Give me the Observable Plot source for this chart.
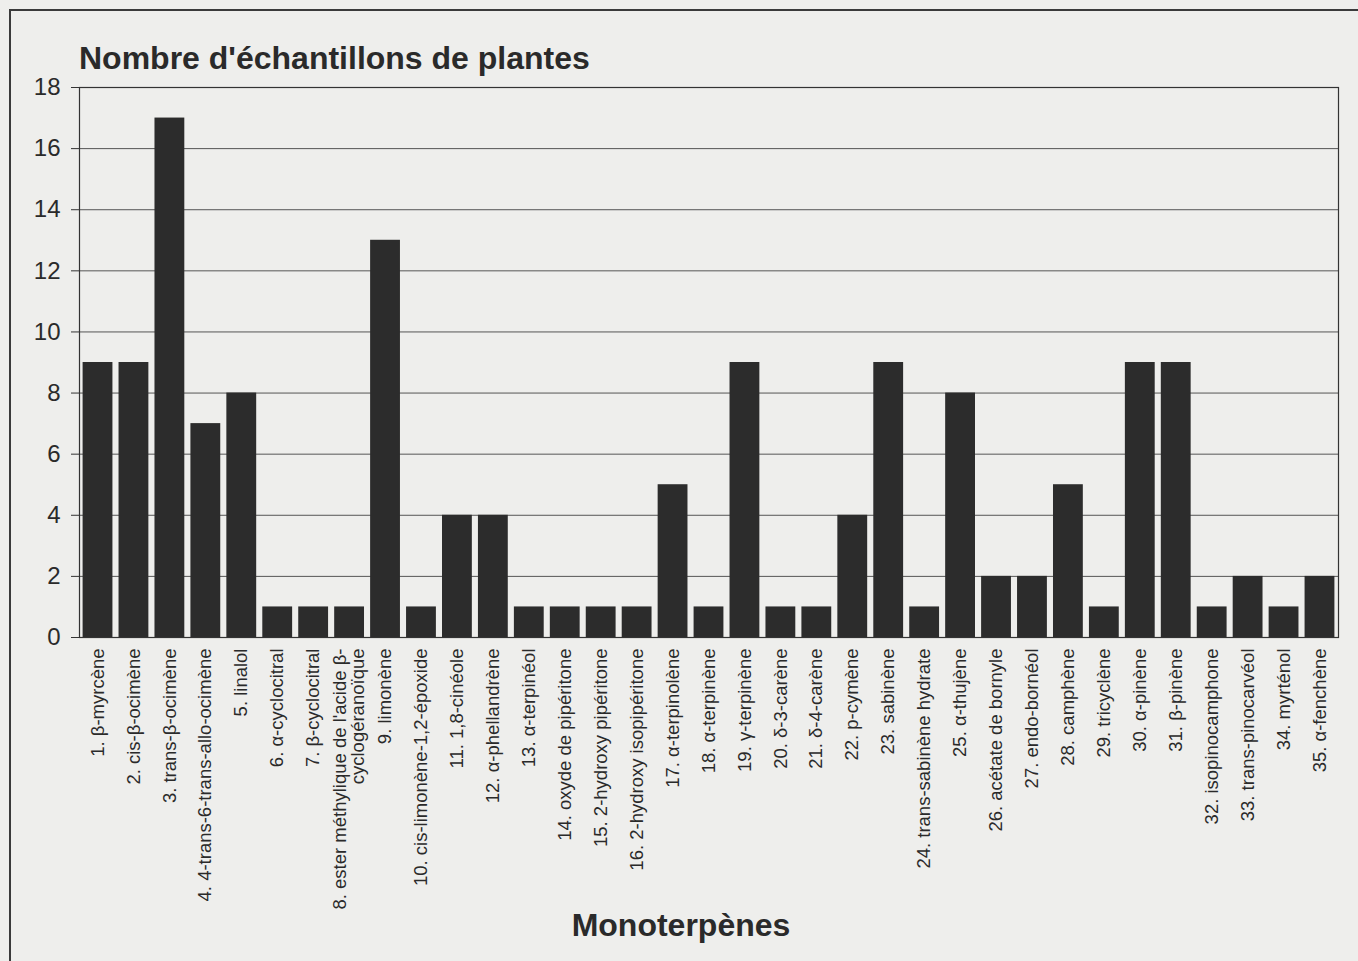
<!DOCTYPE html>
<html>
<head>
<meta charset="utf-8">
<script src="https://cdn.jsdelivr.net/npm/d3@7"></script>
<script src="https://cdn.jsdelivr.net/npm/@observablehq/plot@0.6"></script>
<style>
  html, body { margin: 0; padding: 0; background: #eeeeec; }
  #page { position: relative; width: 1358px; height: 961px; overflow: hidden; background: #eeeeec; font-family: "Liberation Sans", Arial, sans-serif; }
  #frame { position: absolute; left: 9px; top: 9px; width: 1400px; height: 1000px; border-left: 2px solid #3a3a3a; border-top: 2px solid #3a3a3a; }
  #title { position: absolute; left: 79px; top: 40px; font-size: 32px; line-height: 1.149; font-weight: bold; color: #2a2a2a; white-space: nowrap; }
  #xlabel { position: absolute; left: 0; width: 1358px; top: 907px; text-align: center; font-size: 32px; line-height: 1.149; font-weight: bold; color: #2a2a2a; padding-left: 2px; }
  #chart { position: absolute; left: 0; top: 0; }
</style>
</head>
<body>
<div id="page">
  <div id="frame"></div>
  <div id="title">Nombre d'échantillons de plantes</div>
  <div id="chart"></div>
  <div id="xlabel">Monoterpènes</div>
</div>
<script>
const labels = [
  "1. β-myrcène",
  "2. cis-β-ocimène",
  "3. trans-β-ocimène",
  "4. 4-trans-6-trans-allo-ocimène",
  "5. linalol",
  "6. α-cyclocitral",
  "7. β-cyclocitral",
  "8. ester méthylique de l'acide β-\ncyclogéranoïque",
  "9. limonène",
  "10. cis-limonène-1,2-époxide",
  "11. 1,8-cinéole",
  "12. α-phellandrène",
  "13. α-terpinéol",
  "14. oxyde de pipéritone",
  "15. 2-hydroxy pipéritone",
  "16. 2-hydroxy isopipéritone",
  "17. α-terpinolène",
  "18. α-terpinène",
  "19. γ-terpinène",
  "20. δ-3-carène",
  "21. δ-4-carène",
  "22. p-cymène",
  "23. sabinène",
  "24. trans-sabinène hydrate",
  "25. α-thujène",
  "26. acétate de bornyle",
  "27. endo-bornéol",
  "28. camphène",
  "29. tricyclène",
  "30. α-pinène",
  "31. β-pinène",
  "32. isopinocamphone",
  "33. trans-pinocarvéol",
  "34. myrténol",
  "35. α-fenchène"
];
const counts = [9, 9, 17, 7, 8, 1, 1, 1, 13, 1, 4, 4, 1, 1, 1, 1, 5, 1, 9, 1, 1, 4, 9, 1, 8, 2, 2, 5, 1, 9, 9, 1, 2, 1, 2];
const yTicks = [0, 2, 4, 6, 8, 10, 12, 14, 16, 18];

const data = labels.map((l, i) => ({label: l, value: counts[i]}));

const chart = Plot.plot({
  width: 1358,
  height: 961,
  marginTop: 87,
  marginBottom: 324,
  marginLeft: 79,
  marginRight: 20,
  style: {fontFamily: "'Liberation Sans', Arial, sans-serif", background: "transparent", color: "#2a2a2a"},
  x: {domain: labels, paddingInner: 0.17, paddingOuter: 0.1, axis: null},
  y: {domain: [0, 18], axis: null},
  marks: [
    Plot.gridY(yTicks, {stroke: "#555", strokeOpacity: 1, strokeWidth: 1}),
    Plot.barY(data, {x: "label", y: "value", fill: "#2c2c2c"}),
    Plot.frame({stroke: "#333", strokeWidth: 1.2}),
    Plot.axisY(yTicks, {label: null, tickSize: 8, tickPadding: 11, fontSize: 24, stroke: "#333", fill: "#2a2a2a"}),
    Plot.text(data, {x: "label", text: "label", frameAnchor: "bottom", dy: 11, rotate: -90, textAnchor: "end", lineAnchor: "middle", fontSize: 18.5, fill: "#2a2a2a", lineHeight: 0.95})
  ]
});
document.getElementById("chart").appendChild(chart);
</script>
</body>
</html>
